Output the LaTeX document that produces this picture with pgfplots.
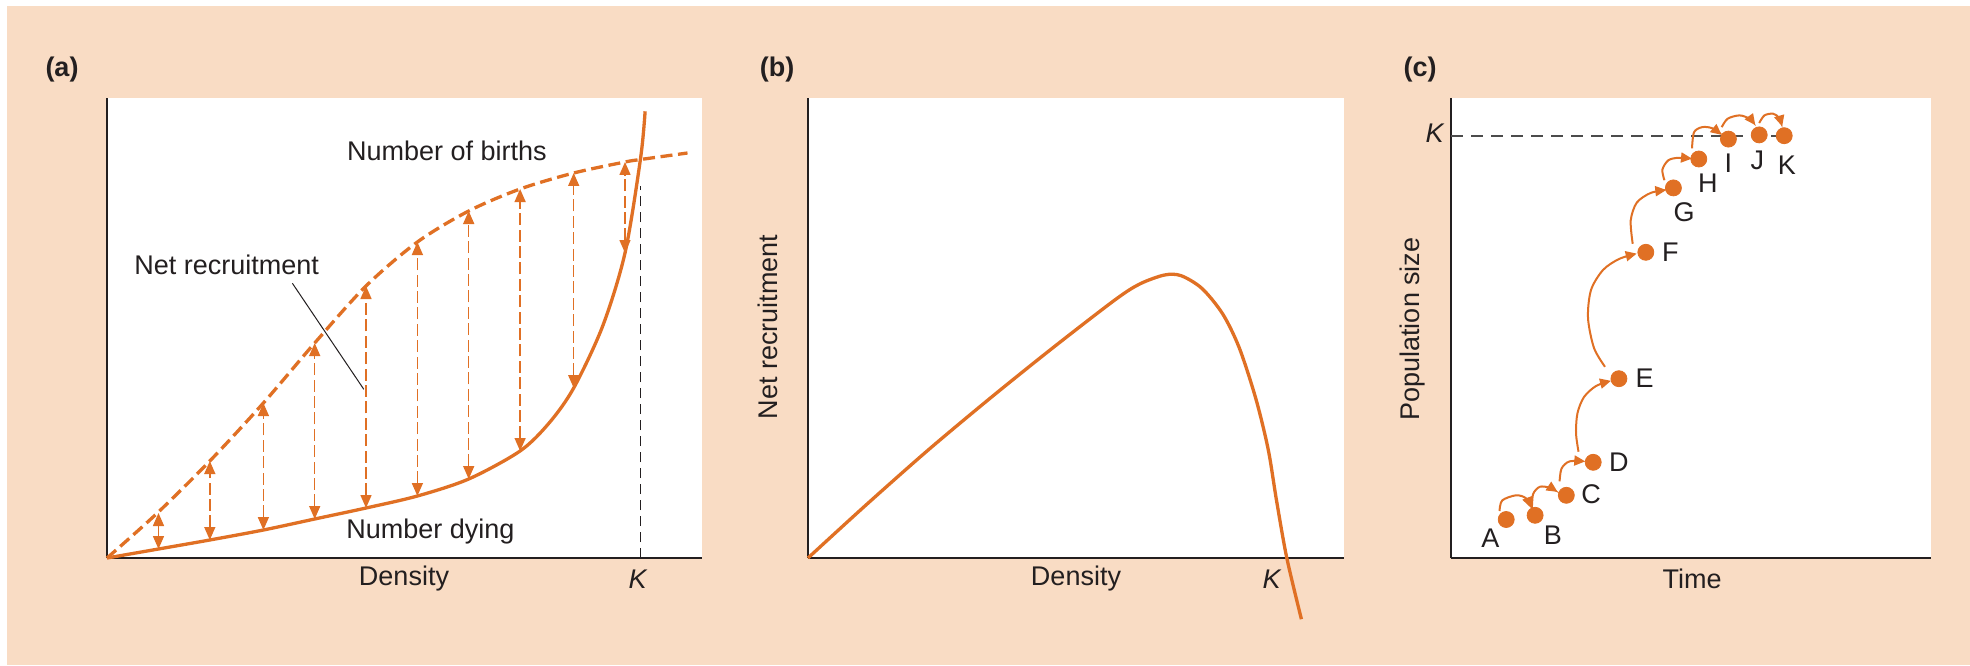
\documentclass[border=0pt]{standalone}
\usepackage{pgfplots}
\pgfplotsset{compat=1.18}
\usepackage{fontspec}
\setmainfont{Liberation Sans}
\usetikzlibrary{arrows.meta}
\definecolor{peach}{RGB}{249,220,196}
\definecolor{org}{RGB}{224,112,36}
\definecolor{txt}{RGB}{35,31,32}
\begin{document}
\begin{tikzpicture}[x=0.5pt,y=0.5pt]
\tikzset{lab/.style={font=\fontsize{13.5}{16}\selectfont, text=txt, inner sep=0pt},
 arr/.style={org, line width=0.75pt, dash pattern=on 6pt off 2.2pt, {Triangle[length=6.5pt,width=5.5pt]}-{Triangle[length=6.5pt,width=5.5pt]}},
 carr/.style={org, line width=1pt, smooth, -{Triangle[length=5.5pt,width=5pt]}}}
\pgfplotsset{panel/.style={scale only axis, height=230pt, axis x line=bottom, axis y line=left,
 axis line style={-, txt, line width=0.9pt}, xtick=\empty, ytick=\empty,
 ymin=0, ymax=460, xmin=0, axis background/.style={fill=white}, clip=false, anchor=south west}}
\fill[white] (0,0) rectangle (1970,665);
\fill[peach] (7,0) rectangle (1970,659);
\node[lab, font=\fontsize{13.5}{16}\selectfont\bfseries] at (62,595) {(a)};
\node[lab, font=\fontsize{13.5}{16}\selectfont\bfseries] at (777,595) {(b)};
\node[lab, font=\fontsize{13.5}{16}\selectfont\bfseries] at (1420,595) {(c)};

% ---------- (a)
\begin{axis}[panel, at={(107,107)}, width=297.5pt, xmax=595]
\addplot[txt, line width=0.5pt, dash pattern=on 5pt off 3pt] coordinates {(533.6,0) (533.6,372)};
\addplot[org, line width=1.65pt, smooth, dash pattern=on 6pt off 2.8pt] coordinates {
(0,0) (49.3,44) (102.8,97) (156.4,155) (207.7,215) (259,272) (310.4,316) (361.7,347) (413.1,369) (466.7,385) (518,396) (533.6,398.5) (580.5,405)};
\addplot[org, line width=1.65pt, smooth] coordinates {
(0,0) (51.5,9) (102.8,18) (156.4,28) (207.7,39) (259,50) (310.4,62) (361.7,79) (413.1,107) (442.1,135) (466.7,170) (495.7,232) (518,305) (533.6,400) (538.1,446.7)};
\addplot[arr] coordinates {(51.5,9) (51.5,45)};
\addplot[arr] coordinates {(102.8,18) (102.8,97)};
\addplot[arr] coordinates {(156.4,28) (156.4,155)};
\addplot[arr] coordinates {(207.7,39) (207.7,215)};
\addplot[arr] coordinates {(259,50) (259,272)};
\addplot[arr] coordinates {(310.4,62) (310.4,316)};
\addplot[arr] coordinates {(361.7,79) (361.7,347)};
\addplot[arr] coordinates {(413.1,107) (413.1,369)};
\addplot[arr] coordinates {(466.7,170) (466.7,385)};
\addplot[arr] coordinates {(518,305) (518,396)};
\addplot[txt, line width=0.5pt] coordinates {(185.4,274.7) (256.8,168.7)};
\node[lab] at (axis cs:340,407.5) {Number of births};
\node[lab, anchor=west] at (axis cs:239,26) {Number dying};
\node[lab, anchor=west] at (axis cs:27,293) {Net recruitment};
\node[lab] at (axis cs:297,-21) {Density};
\node[lab] at (axis cs:531,-21) {\textit{K}};
\end{axis}

% ---------- (b)
\begin{axis}[panel, at={(808,107)}, width=268pt, xmax=536]
\addplot[org, line width=1.65pt, smooth] coordinates {
(0,0) (58,53) (120.2,108) (182.4,160) (244.6,210) (306.8,258) (331.7,274) (356.5,283) (373.1,282.3) (393.9,269.6) (414.6,244.2) (431.2,210.3) (447.8,159.4) (460.2,108.5) (468.5,57.6) (478.8,0) (493.4,-61.2)};
\node[lab] at (axis cs:268,-21) {Density};
\node[lab] at (axis cs:464,-21) {\textit{K}};
\node[lab, rotate=90] at (axis cs:-40,231) {Net recruitment};
\end{axis}

% ---------- (c)
\begin{axis}[panel, at={(1451,107)}, width=240pt, xmax=480]
\addplot[black!70, line width=0.6pt, dash pattern=on 6pt off 4pt] coordinates {(0,422) (333,422)};
\addplot[carr] coordinates {(48.5,47) (51.2,57.6) (65.1,62.7) (75,59.7) (80.1,49.9)};
\addplot[carr] coordinates {(80.9,49) (82.1,63.9) (88.8,71.2) (98.7,70.3) (106.6,66.1)};
\addplot[carr] coordinates {(108.6,76.7) (110.5,89.4) (118.5,96.6) (134.3,96.6)};
\addplot[carr] coordinates {(127.5,106.3) (125,125) (126.5,145) (133,161) (145,172) (160,177.2)};
\addplot[carr] coordinates {(154,191.2) (143,210) (137,240) (140,268) (152,288) (168,299) (185.7,304.4)};
\addplot[carr] coordinates {(181.7,314.2) (179.7,337.5) (185.7,355.3) (199.5,365) (215.3,368)};
\addplot[carr] coordinates {(213.4,377.8) (211.4,388.4) (217.3,397.7) (227.2,400.2) (241,399.4)};
\addplot[carr] coordinates {(241,409.6) (243,425.7) (250.9,430.8) (260.8,429.9) (270.7,423.1)};
\addplot[carr] coordinates {(270.7,430.8) (276.6,439.3) (288.5,442.6) (298.4,439.3) (304.3,432.9)};
\addplot[carr] coordinates {(308.2,435) (313.4,442.6) (322.1,444.3) (328,440.1) (331.2,431.6)};
\addplot[only marks, mark=*, mark size=4pt, org, mark options={draw=org, fill=org}] coordinates {
(55.2,38.5) (84.1,42.7) (115.3,62.7) (142.2,95.7) (167.9,179.3) (194.8,305.7) (222.4,370.1) (247.8,399) (277.4,418.9) (308.2,423.1) (333.2,422.3)};
\node[lab] at (axis cs:39.4,19.4) {A};
\node[lab] at (axis cs:101.8,22.8) {B};
\node[lab] at (axis cs:140.2,63.9) {C};
\node[lab] at (axis cs:167.9,95.7) {D};
\node[lab] at (axis cs:193.6,179.3) {E};
\node[lab] at (axis cs:219.3,305.7) {F};
\node[lab] at (axis cs:233.1,346) {G};
\node[lab] at (axis cs:256.9,374.8) {H};
\node[lab] at (axis cs:277.4,394.7) {I};
\node[lab] at (axis cs:306.3,397.7) {J};
\node[lab] at (axis cs:335.9,392.6) {K};
\node[lab] at (axis cs:-16,425) {\textit{K}};
\node[lab] at (axis cs:241,-21) {Time};
\node[lab, rotate=90] at (axis cs:-38,229) {Population size};
\end{axis}
\end{tikzpicture}
\end{document}
